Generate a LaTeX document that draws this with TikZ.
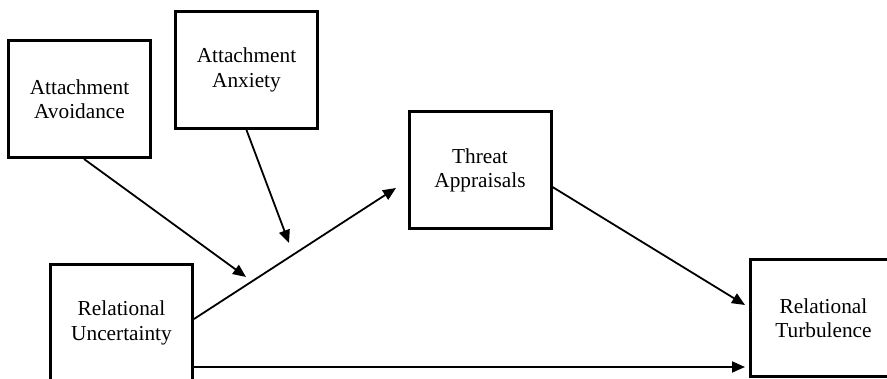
\documentclass[tikz,border=0pt]{standalone}
\usepackage{fontspec}
\setmainfont{Liberation Serif}
\usetikzlibrary{arrows.meta}
\tikzset{
  box/.style={draw=black, line width=3pt, minimum width=142pt, minimum height=117pt,
    inner sep=0pt, align=center, font=\fontsize{21.3}{24.5}\selectfont},
  arr/.style={line width=1.8pt, -{Triangle[length=13pt,width=11pt]}},
  plain/.style={line width=1.8pt}
}
\begin{document}
\begin{tikzpicture}[x=1pt,y=-1pt]
\clip (0,0) rectangle (887,379);
\fill[white] (0,0) rectangle (887,379);
\node[box] (avoid) at (79.5,99) {Attachment\\Avoidance};
\node[box] (anx) at (246.5,70) {Attachment\\Anxiety};
\node[box] (threat) at (480,170.5) {Threat\\Appraisals};
\node[box] (unc) at (121.5,323) {Relational\\Uncertainty};
\node[box, minimum width=146pt] (turb) at (823.5,318) {Relational\\Turbulence};
\coordinate (tAvoid) at (246,277);
\coordinate (tAnx) at (289,243);
\coordinate (tThreat) at (396,188);
% moderator arrows
\draw[arr] ([xshift=4.5pt]avoid.south) -- (tAvoid);
\draw[arr] (anx.south) -- (tAnx);
% main paths
\draw[arr] ([yshift=4pt]unc.east) -- (tThreat);
\draw[arr] ([yshift=-16.5pt]threat.east) -- ([xshift=-4pt,yshift=13pt]turb.west);
\draw[arr] ([yshift=-44pt]unc.east) -- ([xshift=-4pt]turb.west |- 0,367);
\end{tikzpicture}
\end{document}
